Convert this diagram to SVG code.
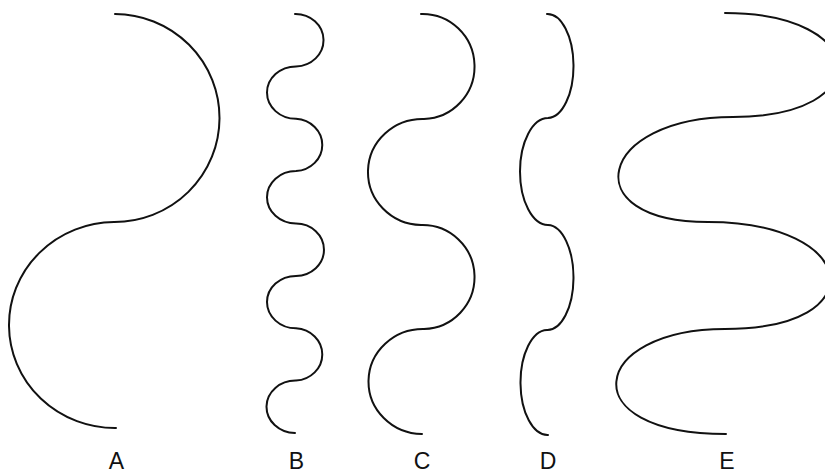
<svg xmlns="http://www.w3.org/2000/svg" width="825" height="473" viewBox="0 0 825 473">
<style>
.c{fill:none;stroke:#111;stroke-width:2;stroke-linecap:round;stroke-linejoin:round}
.l{font-family:"Liberation Sans",Arial,sans-serif;font-size:23px;fill:#111;text-anchor:middle}
</style>
<rect width="825" height="473" fill="#fff"/>
<g id="A">
<path class="c" d="M115,14 A105,104 0 0 1 114,222 A106,103 0 0 0 116,428"/>
<text class="l" x="116.5" y="469">A</text>
</g>
<g id="B">
<path class="c" d="M295,14 A28,26.2 0 0 1 296,66.4 A29,26.2 0 0 0 296,118.8 A28,26.2 0 0 1 296,171.1 A29,26.2 0 0 0 296,223.5 A28,26.2 0 0 1 296,275.9 A29,26.2 0 0 0 296,328.3 A28,26.2 0 0 1 296,380.6 A29,26.2 0 0 0 295,433"/>
<text class="l" x="296.5" y="469">B</text>
</g>
<g id="C">
<path class="c" d="M421,14 A52,52.5 0 0 1 424,119 A54.5,53 0 0 0 421,225 A52,52 0 0 1 424,329 A54.5,52.5 0 0 0 422,434"/>
<text class="l" x="422" y="469">C</text>
</g>
<g id="D">
<path class="c" d="M547,14 A26,52 0 0 1 548,118 A28,53.5 0 0 0 548,225 A26,52.5 0 0 1 547,330 A27,52.5 0 0 0 548,435"/>
<text class="l" x="548" y="469">D</text>
</g>
<g id="E">
<path class="c" d="M725,13 C870,13 878,117 733,117 C598,117 573,222 708,222 C859,222 876,329 725,329 C590,329 570,434 726,434"/>
<text class="l" x="727" y="469">E</text>
</g>
</svg>
